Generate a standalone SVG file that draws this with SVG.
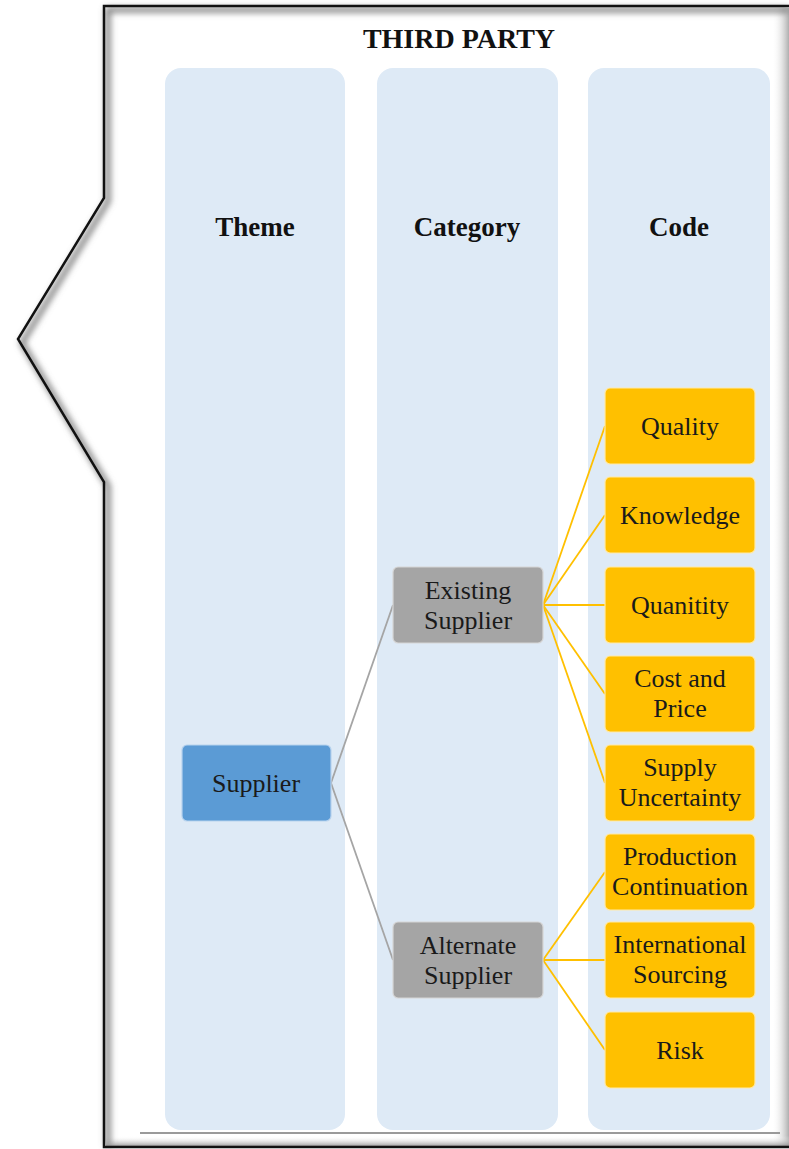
<svg xmlns="http://www.w3.org/2000/svg" width="789" height="1149" viewBox="0 0 789 1149">
<defs>
<filter id="blur" x="-10%" y="-10%" width="120%" height="120%"><feGaussianBlur stdDeviation="3"/></filter>
<linearGradient id="rsh" x1="0" y1="0" x2="1" y2="0">
<stop offset="0" stop-color="#ffffff" stop-opacity="0"/>
<stop offset="1" stop-color="#9a9a9a" stop-opacity="0.8"/>
</linearGradient>
<linearGradient id="bsh" x1="0" y1="0" x2="0" y2="1">
<stop offset="0" stop-color="#ffffff" stop-opacity="0"/>
<stop offset="1" stop-color="#8a8a8a" stop-opacity="0.8"/>
</linearGradient>
<style>
.col{fill:#DEEAF6}
.hdr{font-family:"Liberation Serif","Times New Roman",serif;font-weight:bold;font-size:27px;fill:#111;text-anchor:middle}
.lbl{font-family:"Liberation Serif","Times New Roman",serif;font-size:26px;fill:#1a1a1a;text-anchor:middle}
.code rect{fill:#FFC000;stroke:#ffe9a8;stroke-width:1.2}
.cat rect{fill:#A5A5A5;stroke:#d6d6d6;stroke-width:1.2}
.theme rect{fill:#5B9BD5;stroke:#b8d3ee;stroke-width:1.2}
.cg{stroke:#A5A5A5;stroke-width:1.8;fill:none}
.cy{stroke:#FFC000;stroke-width:1.8;fill:none}
</style>
</defs>
<rect x="0" y="0" width="789" height="1149" fill="#ffffff"/>
<!-- frame shadows -->
<rect x="772" y="8" width="17" height="1138" fill="url(#rsh)"/>
<rect x="106" y="1136" width="683" height="10" fill="url(#bsh)"/>
<path d="M789 10 L108 10 L108 201 L22 343 L108 486 L108 1146" fill="none" stroke="#777" stroke-width="5" filter="url(#blur)"/>
<path d="M789 6 L104 6 L104 198 L18 339 L104 482 L104 1147 L789 1147" fill="none" stroke="#111" stroke-width="2.5" stroke-linejoin="miter"/>
<line x1="140" y1="1133" x2="780" y2="1133" stroke="#9a9a9a" stroke-width="2"/>
<text class="hdr" x="459" y="48" style="font-size:28px">THIRD PARTY</text>
<g id="columns">
<rect class="col" x="165" y="68" width="180" height="1062" rx="16"/>
<rect class="col" x="377" y="68" width="181" height="1062" rx="16"/>
<rect class="col" x="588" y="68" width="182" height="1062" rx="16"/>
<text class="hdr" x="255" y="236">Theme</text>
<text class="hdr" x="467" y="236">Category</text>
<text class="hdr" x="679" y="236">Code</text>
</g>
<g id="connectors">
<path class="cg" d="M331 783 L393 605"/>
<path class="cg" d="M331 783 L393 960"/>
<path class="cy" d="M543 605 L605 426"/>
<path class="cy" d="M543 605 L605 515"/>
<path class="cy" d="M543 605 L605 605"/>
<path class="cy" d="M543 605 L605 694"/>
<path class="cy" d="M543 605 L605 783"/>
<path class="cy" d="M543 960 L605 872"/>
<path class="cy" d="M543 960 L605 960"/>
<path class="cy" d="M543 960 L605 1050"/>
</g>
<g id="supplier" class="theme"><rect x="182" y="745" width="149" height="76" rx="5"/><text class="lbl" x="256" y="792">Supplier</text></g>
<g id="existing-supplier" class="cat"><rect x="393" y="567" width="150" height="76" rx="5"/><text class="lbl" x="468" y="599">Existing</text><text class="lbl" x="468" y="629">Supplier</text></g>
<g id="alternate-supplier" class="cat"><rect x="393" y="922" width="150" height="76" rx="5"/><text class="lbl" x="468" y="954">Alternate</text><text class="lbl" x="468" y="984">Supplier</text></g>
<g id="quality" class="code"><rect x="605" y="388" width="150" height="76" rx="5"/><text class="lbl" x="680" y="435">Quality</text></g>
<g id="knowledge" class="code"><rect x="605" y="477" width="150" height="76" rx="5"/><text class="lbl" x="680" y="524">Knowledge</text></g>
<g id="quanitity" class="code"><rect x="605" y="567" width="150" height="76" rx="5"/><text class="lbl" x="680" y="614">Quanitity</text></g>
<g id="cost-and-price" class="code"><rect x="605" y="656" width="150" height="76" rx="5"/><text class="lbl" x="680" y="687">Cost and</text><text class="lbl" x="680" y="717">Price</text></g>
<g id="supply-uncertainty" class="code"><rect x="605" y="745" width="150" height="76" rx="5"/><text class="lbl" x="680" y="776">Supply</text><text class="lbl" x="680" y="806">Uncertainty</text></g>
<g id="production-continuation" class="code"><rect x="605" y="834" width="150" height="76" rx="5"/><text class="lbl" x="680" y="865">Production</text><text class="lbl" x="680" y="895">Continuation</text></g>
<g id="international-sourcing" class="code"><rect x="605" y="922" width="150" height="76" rx="5"/><text class="lbl" x="680" y="953">International</text><text class="lbl" x="680" y="983">Sourcing</text></g>
<g id="risk" class="code"><rect x="605" y="1012" width="150" height="76" rx="5"/><text class="lbl" x="680" y="1059">Risk</text></g>
</svg>
